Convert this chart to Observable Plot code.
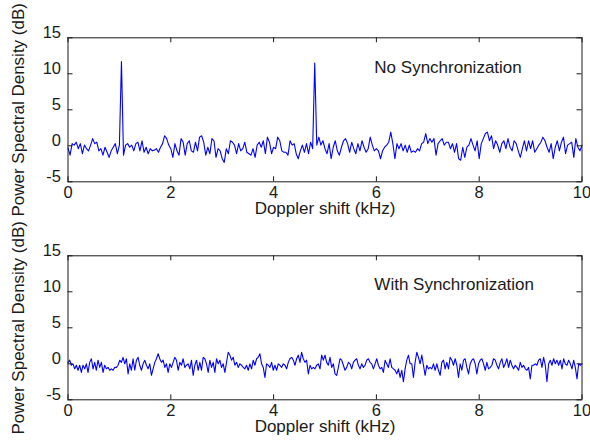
<!DOCTYPE html>
<html><head><meta charset="utf-8">
<script src="https://cdn.jsdelivr.net/npm/d3@7"></script>
<script src="https://cdn.jsdelivr.net/npm/@observablehq/plot@0.6"></script>
<style>
html,body{margin:0;padding:0;background:#fff;}
#chart{position:relative;width:590px;height:447px;}
#chart svg{position:absolute;left:0;overflow:visible;}
</style></head><body><div id="chart"></div>
<script>
const xTicks = [0, 2, 4, 6, 8, 10];
const yTicks = [-5, 0, 5, 10, 15];
const xLabel = "Doppler shift (kHz)";
const yLabel = "Power Spectral Density (dB)";
const panelTitles = ["No Synchronization", "With Synchronization"];
const titleX = [5.96, 5.96];
const titleY = [10.9, 11.0];

// PSD (dB) without synchronization, 0..10 kHz evenly sampled
const noSync = [
  -0.3,-1.3,0.3,0.1,0.5,-0.4,0.3,-1.1,0.1,-0.4,-0.7,0.1,1.0,0.3,0.5,-0.7,-0.4,-1.3,-0.2,-0.9,-1.6,-0.7,-0.2,0.3,-1.1,0.1,
  11.7,
  -1.3,0.1,0.3,-0.2,0.1,-0.7,0.3,0.5,-0.7,0.7,-0.9,-0.2,-1.1,-0.4,-0.7,-0.6,-0.4,-0.9,-0.2,0.3,1.4,1.0,0.1,-0.4,-1.6,0.3,-0.7,-1.3,1.0,0.5,-1.3,0.3,0.7,-0.7,-0.9,0.5,-0.7,1.2,1.4,0.5,-1.3,-0.2,-1.1,1.0,0.7,-1.6,-0.4,-0.7,-1.8,-2.3,-0.4,-1.1,0.7,0.5,0.1,-1.1,0.3,-0.7,
  -0.4,0.5,-0.9,-1.1,-1.3,-0.4,-1.6,0.1,0.5,-0.2,0.7,-1.1,1.2,0.5,-1.1,-0.2,-0.4,1.2,0.7,-0.7,-0.9,-0.9,-1.3,0.7,0.1,0.3,-1.1,-1.8,-0.7,0.1,-0.9,0.3,-1.1,0.5,-0.4,
  11.5,
  0.1,1.2,0.1,0.7,-0.4,-1.1,0.3,-1.8,-0.2,0.7,-0.7,-1.3,-0.2,0.7,1.0,0.3,-0.9,0.5,-0.4,-1.1,0.3,-0.7,0.7,-0.2,-0.9,-0.4,1.2,0.1,-0.7,-0.4,-0.7,-1.8,-0.7,-0.2,0.1,0.5,1.9,0.3,-1.8,0.3,-0.4,0.3,-0.7,0.1,-0.9,0.1,
  -0.9,-0.7,-0.9,-0.4,-0.7,0.3,0.5,1.7,0.3,1.0,0.5,1.0,-1.3,0.3,0.7,1.0,0.1,0.5,0.5,-0.4,0.3,-0.9,0.3,-1.8,-2.0,-0.2,-1.6,-0.2,0.1,1.0,0.1,-0.7,0.7,-1.8,0.3,1.0,1.7,1.9,0.7,1.4,-0.4,0.7,0.1,-0.9,0.3,0.7,-0.4,1.0,-0.2,-0.7,0.7,0.3,-0.7,-1.6,-0.4,0.7,-0.7,0.7,-0.4,0.7,-0.9,-0.4,0.1,0.5,1.2,0.7,-0.2,-0.9,0.3,-1.8,-0.2,0.7,-0.7,0.5,1.2,-1.1,0.1,0.3,0.5,-1.6,1.0,-0.2,-0.7,0.1
];

// PSD (dB) with synchronization, 0..10 kHz evenly sampled
const withSync = [
  0.2,0.5,-0.2,0.0,-0.7,-0.2,-0.9,-0.2,-1.2,-0.2,-0.7,0.0,-1.2,0.2,0.7,-0.7,0.2,-0.9,0.5,-0.5,0.2,-1.2,-0.2,-0.7,-0.5,-0.9,-0.7,-0.9,-0.5,-0.5,-0.2,0.5,0.2,0.9,0.0,0.7,-1.4,0.0,-0.9,0.7,-0.9,0.5,0.9,-0.2,-0.9,0.0,0.5,-0.2,-0.7,0.0,-1.6,-0.7,0.2,0.7,1.4,0.7,0.2,0.5,-0.5,0.0,-1.2,0.0,-0.5,0.2,0.9,0.5,-0.9,0.2,-0.2,0.7,-0.5,-0.2,0.0,-0.7,0.5,-1.6,-0.2,0.5,-0.9,0.2,-0.9,0.9,0.7,0.0,-1.2,0.5,-0.5,0.2,-1.2,0.7,0.0,0.5,-0.5,0.0,-1.2,0.2,1.6,1.2,0.5,0.9,-0.2,0.2,-0.5,0.0,-0.2,
  -0.5,-0.7,-0.2,-0.9,0.0,-0.7,0.5,-0.2,0.7,0.9,1.4,0.0,-0.5,-1.9,0.0,-0.2,-0.5,0.2,-0.9,-0.2,-0.9,0.0,-0.2,-0.5,0.0,-0.2,-0.7,0.2,0.7,0.9,0.5,-0.2,0.7,1.2,0.2,1.6,0.7,0.2,0.5,-1.4,-0.2,-0.7,-0.5,-0.7,-0.2,0.0,-0.7,1.2,0.5,1.2,0.2,-0.2,0.9,-0.5,0.0,-1.4,-1.6,-0.5,0.7,0.5,-0.2,-0.9,-0.5,0.2,0.0,-0.7,0.2,0.5,0.7,-0.2,-0.7,0.0,-0.5,-0.2,0.5,0.7,0.2,0.0,-0.7,0.0,0.7,-0.2,-0.7,-0.5,-1.2,0.5,0.0,-0.5,0.7,-0.5,-0.7,-0.9,-1.4,-0.7,-1.9,-0.9,-2.5,-0.7,0.5,1.2,0.0,
  0.0,-1.9,0.2,1.6,0.9,0.0,1.2,-0.2,-1.6,-0.2,-0.7,-0.5,-0.7,0.0,-0.9,0.0,-0.9,-1.6,0.2,0.5,-0.7,0.2,-0.7,0.9,0.5,-0.2,0.7,-0.2,-1.9,0.0,-0.9,0.5,0.7,-0.5,-1.4,0.0,0.5,0.7,0.0,-1.4,0.0,0.5,0.7,0.0,-0.9,0.2,-0.7,-0.5,-0.2,0.7,0.5,-0.2,-0.7,0.2,0.7,-0.5,0.0,0.7,-0.5,0.5,-0.2,-0.7,-0.2,-0.5,-0.9,0.2,-0.5,-0.2,-0.7,-0.9,-0.5,-2.1,-0.2,-0.2,0.0,-0.2,0.5,0.7,-0.5,0.9,-0.2,-2.5,0.0,0.5,-0.2,0.7,0.0,0.5,-0.2,0.5,-0.7,0.7,0.0,-0.2,0.5,0.0,-0.7,0.5,-0.5,-2.1,0.0,-0.2,0.0
];

const FONT = "'Liberation Sans', Arial, Helvetica, sans-serif";
const INK = "#1a1a1a";
const W = 590, ML = 67.5, MR = 8.5;
const innerW = W - ML - MR, innerH = 144;

function toRows(vals) {
  const n = vals.length;
  return vals.map((v, i) => ({f: i * 10 / (n - 1), p: v}));
}

function panel(vals, idx, top, H, MT, MB) {
  const rows = toRows(vals);
  const svg = Plot.plot({
    width: W, height: H,
    marginLeft: ML, marginRight: MR, marginTop: MT, marginBottom: MB,
    style: {fontFamily: FONT, fontSize: "16px", color: INK, background: "transparent", overflow: "visible"},
    x: {domain: [0, 10], axis: null},
    y: {domain: [-5, 15], axis: null},
    marks: [
      Plot.line(rows, {x: "f", y: "p", stroke: "#0000ff", strokeWidth: 1.1}),
      Plot.frame({stroke: INK, strokeWidth: 1}),
      Plot.ruleX(xTicks, {x: d => d, stroke: INK, insetTop: innerH - 5}),
      Plot.ruleX(xTicks, {x: d => d, stroke: INK, insetBottom: innerH - 5}),
      Plot.ruleY(yTicks, {y: d => d, stroke: INK, insetRight: innerW - 5}),
      Plot.ruleY(yTicks, {y: d => d, stroke: INK, insetLeft: innerW - 5}),
      Plot.text(xTicks, {x: d => d, frameAnchor: "bottom", text: d => String(d), textAnchor: "middle", lineAnchor: "top", dy: 4.5, fill: INK, fontSize: 16.5}),
      Plot.text(yTicks, {y: d => d, frameAnchor: "left", text: d => String(d), textAnchor: "end", dx: -7, dy: -5.5, fill: INK, fontSize: 16.5}),
      Plot.text([xLabel], {frameAnchor: "bottom", text: d => d, textAnchor: "middle", dy: 32.6, fill: INK, fontSize: 17}),
      Plot.text([yLabel], {frameAnchor: "left", text: d => d, textAnchor: "middle", rotate: -90, dx: -49.5, fill: INK, fontSize: 17}),
      Plot.text([panelTitles[idx]], {x: titleX[idx], y: titleY[idx], text: d => d, textAnchor: "start", fill: INK, fontSize: 17})
    ]
  });
  svg.style.top = top + "px";
  document.getElementById("chart").appendChild(svg);
}

panel(noSync, 0, 0, 223, 37.3, 41.7);
panel(withSync, 1, 223, 224, 32.3, 47.7);
</script></body></html>
